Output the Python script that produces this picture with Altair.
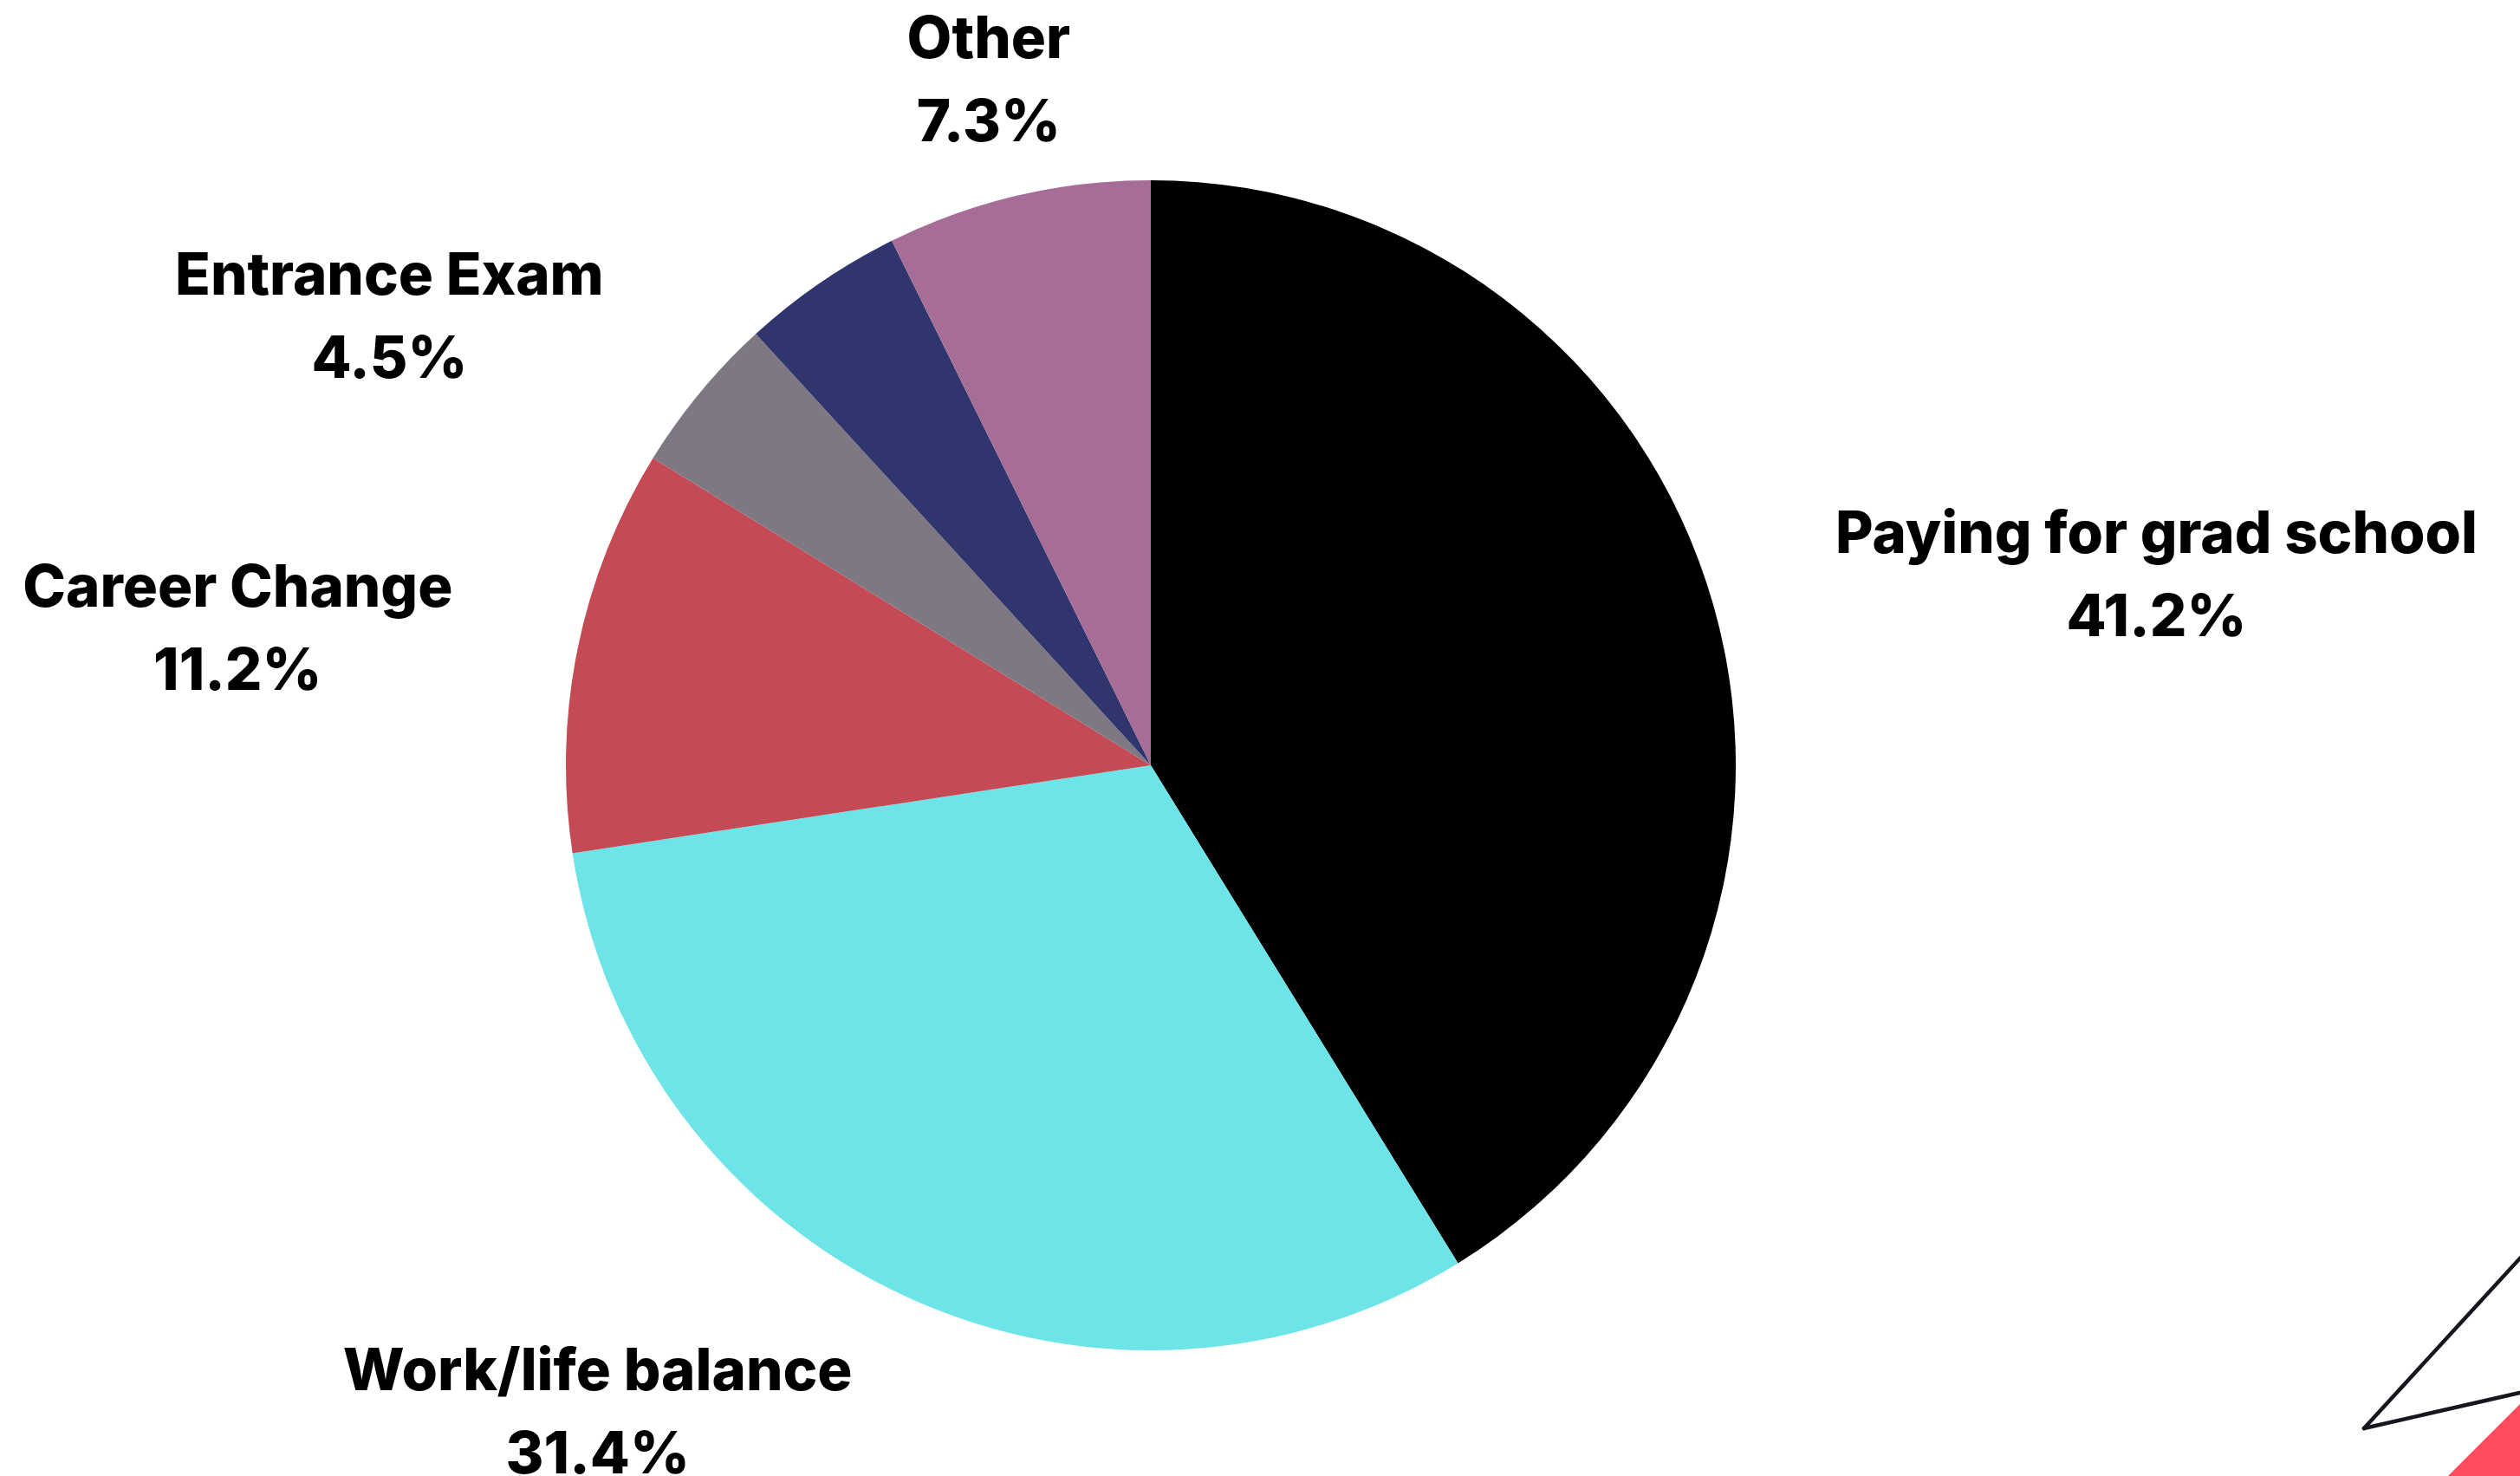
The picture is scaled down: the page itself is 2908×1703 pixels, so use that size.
import altair as alt
import pandas as pd

# ---- data ----
categories = ["Paying for grad school", "Work/life balance", "Career Change",
              "(unlabeled)", "Entrance Exam", "Other"]
shares = [41.2, 31.4, 11.2, 4.4, 4.5, 7.3]
show_label = [True, True, True, False, True, True]
colors = ["#000000", "#6ce4e8", "#c44b55", "#7e7882", "#31356d", "#a66e96"]

# ---- label placement (layout only) ----
label_radius = [1182, 979, 1066, 0, 1022, 817]
label_shift_deg = [4.9, 15.85, -2.8, 0, -24.9, -0.1]

W, H = 2908, 1703
CX, CY, R = 1328, 883, 675
LINE_H = 96

df = pd.DataFrame({
    "category": categories,
    "share": shares,
    "order": list(range(len(categories))),
    "label": [f"{c}\n{s}%" if sh else "" for c, s, sh in zip(categories, shares, show_label)],
    "lr": label_radius,
    "lshift": label_shift_deg,
})

base = alt.Chart(df)

pie = base.mark_arc(outerRadius=R, stroke=None).encode(
    theta=alt.Theta("share:Q", stack=True),
    color=alt.Color("category:N", scale=alt.Scale(domain=categories, range=colors), legend=None),
    order=alt.Order("order:Q", sort="ascending"),
    x=alt.value(CX),
    y=alt.value(CY),
)

labels = base.transform_joinaggregate(
    total="sum(share)"
).transform_window(
    cum="sum(share)", sort=[alt.SortField("order", order="ascending")], frame=[None, 0]
).transform_calculate(
    ang="((datum.cum - datum.share/2)/datum.total)*2*PI + datum.lshift*PI/180",
    px=f"{CX} + datum.lr*sin(datum.ang)",
    py=f"{CY} - datum.lr*cos(datum.ang)",
).mark_text(
    font="Inter", fontWeight=800, fontSize=67, lineHeight=LINE_H,
    lineBreak="\n", align="center", baseline="middle", color="#000000",
    dy=-41,
).encode(
    x=alt.X("px:Q", scale=None, axis=None),
    y=alt.Y("py:Q", scale=None, axis=None),
    text="label:N",
)

# ---- decoration in bottom-right corner ----
one = pd.DataFrame({"k": [0]})
deco_line1 = alt.Chart(one).mark_rule(
    color="#16161e", strokeWidth=4.5, strokeCap="round"
).encode(x=alt.value(2728), y=alt.value(1648), x2=alt.value(2960), y2=alt.value(1395))
deco_line2 = alt.Chart(one).mark_rule(
    color="#16161e", strokeWidth=4.5, strokeCap="round"
).encode(x=alt.value(2728), y=alt.value(1648), x2=alt.value(2960), y2=alt.value(1595))
deco_red = alt.Chart(one).mark_point(
    shape="square", filled=True, opacity=1, color="#ff4b5c", angle=45, size=13800
).encode(x=alt.value(W), y=alt.value(H))

chart = alt.layer(pie, labels, deco_red, deco_line1, deco_line2).properties(
    width=W, height=H, padding=0, autosize=alt.AutoSizeParams(type="none"),
    background="white",
).configure_view(stroke=None)

chart.save("out.html", embed_options={"renderer": "svg", "actions": False})
